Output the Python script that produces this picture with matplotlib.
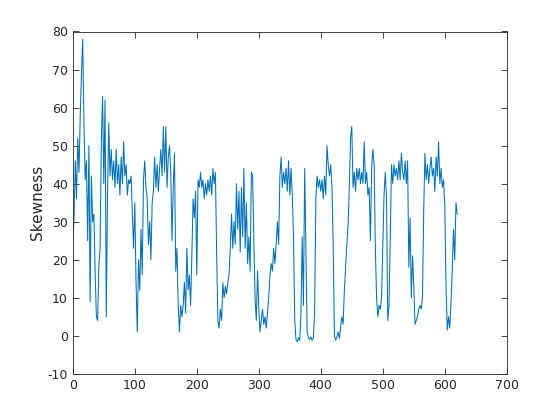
import matplotlib
matplotlib.use('Agg')
import matplotlib.pyplot as plt
import numpy as np

plt.rcParams['font.family'] = 'DejaVu Sans'
plt.rcParams['axes.unicode_minus'] = False

# skewness values, one every 2 samples
skew = [
    25, 31, 46, 36, 52, 43, 58, 69, 78, 56,
    41, 46, 25, 50, 9, 42, 30, 32, 17, 5,
    4, 18, 23, 51, 63, 40, 62, 5, 37, 56,
    42, 49, 41, 46, 39, 49, 40, 45, 37, 47,
    40, 51, 42, 45, 37, 41, 40, 42, 32, 23,
    35, 14, 1, 20, 12, 28, 16, 41, 46, 39,
    36, 24, 30, 20, 35, 38, 47, 39, 45, 38,
    44, 49, 42, 55, 43, 55, 39, 47, 50, 43,
    25, 39, 48, 17, 23, 8, 1, 8, 5, 8,
    14, 6, 23, 12, 16, 8, 21, 36, 31, 38,
    16, 41, 39, 43, 39, 41, 36, 40, 37, 41,
    38, 42, 37, 44, 40, 43, 22, 4, 2, 7,
    4, 14, 10, 13, 11, 14, 16, 23, 32, 23,
    30, 24, 40, 28, 38, 22, 39, 26, 44, 23,
    35, 19, 26, 17, 43, 42, 25, 10, 4, 17,
    7, 1, 4, 7, 3, 5, 2, 6, 10, 16,
    19, 17, 23, 19, 24, 30, 24, 42, 47, 39,
    43, 40, 44, 38, 46, 37, 44, 37, 26, 4,
    -1, -1.6, -0.5, -1.2, 6, 26, 8, 44, 23, 1,
    -0.5, -1, -0.3, -1.2, -0.5, 6, 36, 42, 39, 41,
    38, 41, 36, 42, 37, 50, 45, 42, 45, 39,
    24, 0, -1.2, -0.3, 1, -0.7, 2.4, 5, 3, 12,
    18, 24, 29, 39, 52, 55, 39, 43, 38, 44,
    41, 44, 40, 43, 40, 51, 40, 43, 37, 39,
    25, 44, 49, 45, 23, 10, 5, 8, 7, 10,
    23, 37, 43, 36, 4, 8, 25, 45, 40, 45,
    42, 44, 41, 46, 41, 48, 43, 41, 46, 40,
    46, 18, 31, 10, 21, 13, 3, 4, 5, 7,
    8, 7, 10, 33, 48, 41, 45, 40, 44, 47,
    42, 44, 38, 47, 42, 51, 40, 44, 39, 41,
    34, 13, 1.5, 5, 2, 9, 17, 28, 20, 35,
    32,
]
sample = np.arange(len(skew)) * 2

fig = plt.figure(figsize=(5.6, 4.2), dpi=100)
ax = fig.add_axes([0.13, 0.11, 0.775, 0.815])
ax.plot(sample, skew, color='#0072BD', linewidth=0.75)

ax.set_xlim(0, 700)
ax.set_ylim(-10, 80)
ax.set_xticks(np.arange(0, 701, 100))
ax.set_yticks(np.arange(-10, 81, 10))
ax.set_ylabel('Skewness', fontsize=11, color='#262626', labelpad=2)

ax.tick_params(direction='in', top=True, right=True, labelsize=9,
               colors='#262626', length=4, width=0.6)
for s in ax.spines.values():
    s.set_color('#262626')
    s.set_linewidth(0.6)

fig.savefig('out.png', dpi=100)
plt.close()
